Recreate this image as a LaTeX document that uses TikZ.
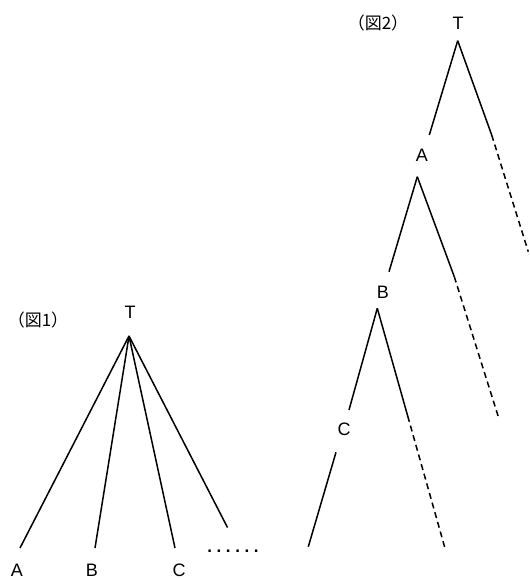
\documentclass[tikz,border=0pt]{standalone}
\usepackage{fontspec}
\setmainfont{Liberation Sans}
\newfontfamily\jpfont{Noto Sans CJK JP}

\begin{document}
\begin{tikzpicture}[x=1pt,y=-1pt]
	\tikzstyle{Letter}=[inner sep=0pt,font=\fontsize{18}{21}\selectfont]
	\tikzstyle{FigLabel}=[inner sep=0pt,font=\jpfont\fontsize{17}{20}\selectfont]
	\tikzstyle{Branch}=[line width=1.5pt]
	\tikzstyle{Rest}=[line width=1.5pt,dash pattern=on 6pt off 4pt]
	\useasboundingbox (0,0) rectangle (530,579);
	\node[FigLabel] (fig1) at (38,320) {（図1）};
	\node[Letter] (T1) at (130,312) {T};
	\node[Letter] (A1) at (17,570) {A};
	\node[Letter] (B1) at (92,570) {B};
	\node[Letter] (C1) at (179,570) {C};
	\node[Letter,font=\fontsize{17}{20}\selectfont\bfseries] (more) at (233,551) {.\kern4.6pt.\kern4.6pt.\kern4.6pt.\kern4.6pt.\kern4.6pt.};
	\coordinate (t1) at (129,336);
	\coordinate (a1) at (20,548);
	\coordinate (b1) at (95,548);
	\coordinate (c1) at (175,548);
	\coordinate (d1) at (227.5,527.5);
	\foreach \e in {a1,b1,c1,d1}
		\draw[Branch] (t1) -- (\e);
	\node[FigLabel] (fig2) at (378,23) {（図2）};
	\node[Letter] (T2) at (458,23) {T};
	\node[Letter] (A2) at (422,155) {A};
	\node[Letter] (B2) at (383,292) {B};
	\node[Letter] (C2) at (344,429) {C};
	\coordinate (t2) at (457.7,40.7);
	\coordinate (t2l) at (429.3,135);
	\coordinate (t2r) at (491.7,135);
	\coordinate (t2d) at (528.3,251.7);
	\coordinate (a2) at (417.3,176.7);
	\coordinate (a2l) at (389,271.7);
	\coordinate (a2r) at (454.3,276.7);
	\coordinate (a2d) at (498.3,416.7);
	\coordinate (b2) at (377.3,308.3);
	\coordinate (b2l) at (349,410);
	\coordinate (b2r) at (407.7,416);
	\coordinate (b2d) at (445.7,550.7);
	\coordinate (c2) at (336,452.3);
	\coordinate (c2l) at (308.3,546.7);
	\foreach \n in {t2,a2,b2}{
		\draw[Branch] (\n) -- (\n l);
		\draw[Branch] (\n) -- (\n r);
		\draw[Rest] (\n r) -- (\n d);
	}
	\draw[Branch] (c2) -- (c2l);
\end{tikzpicture}
\end{document}
